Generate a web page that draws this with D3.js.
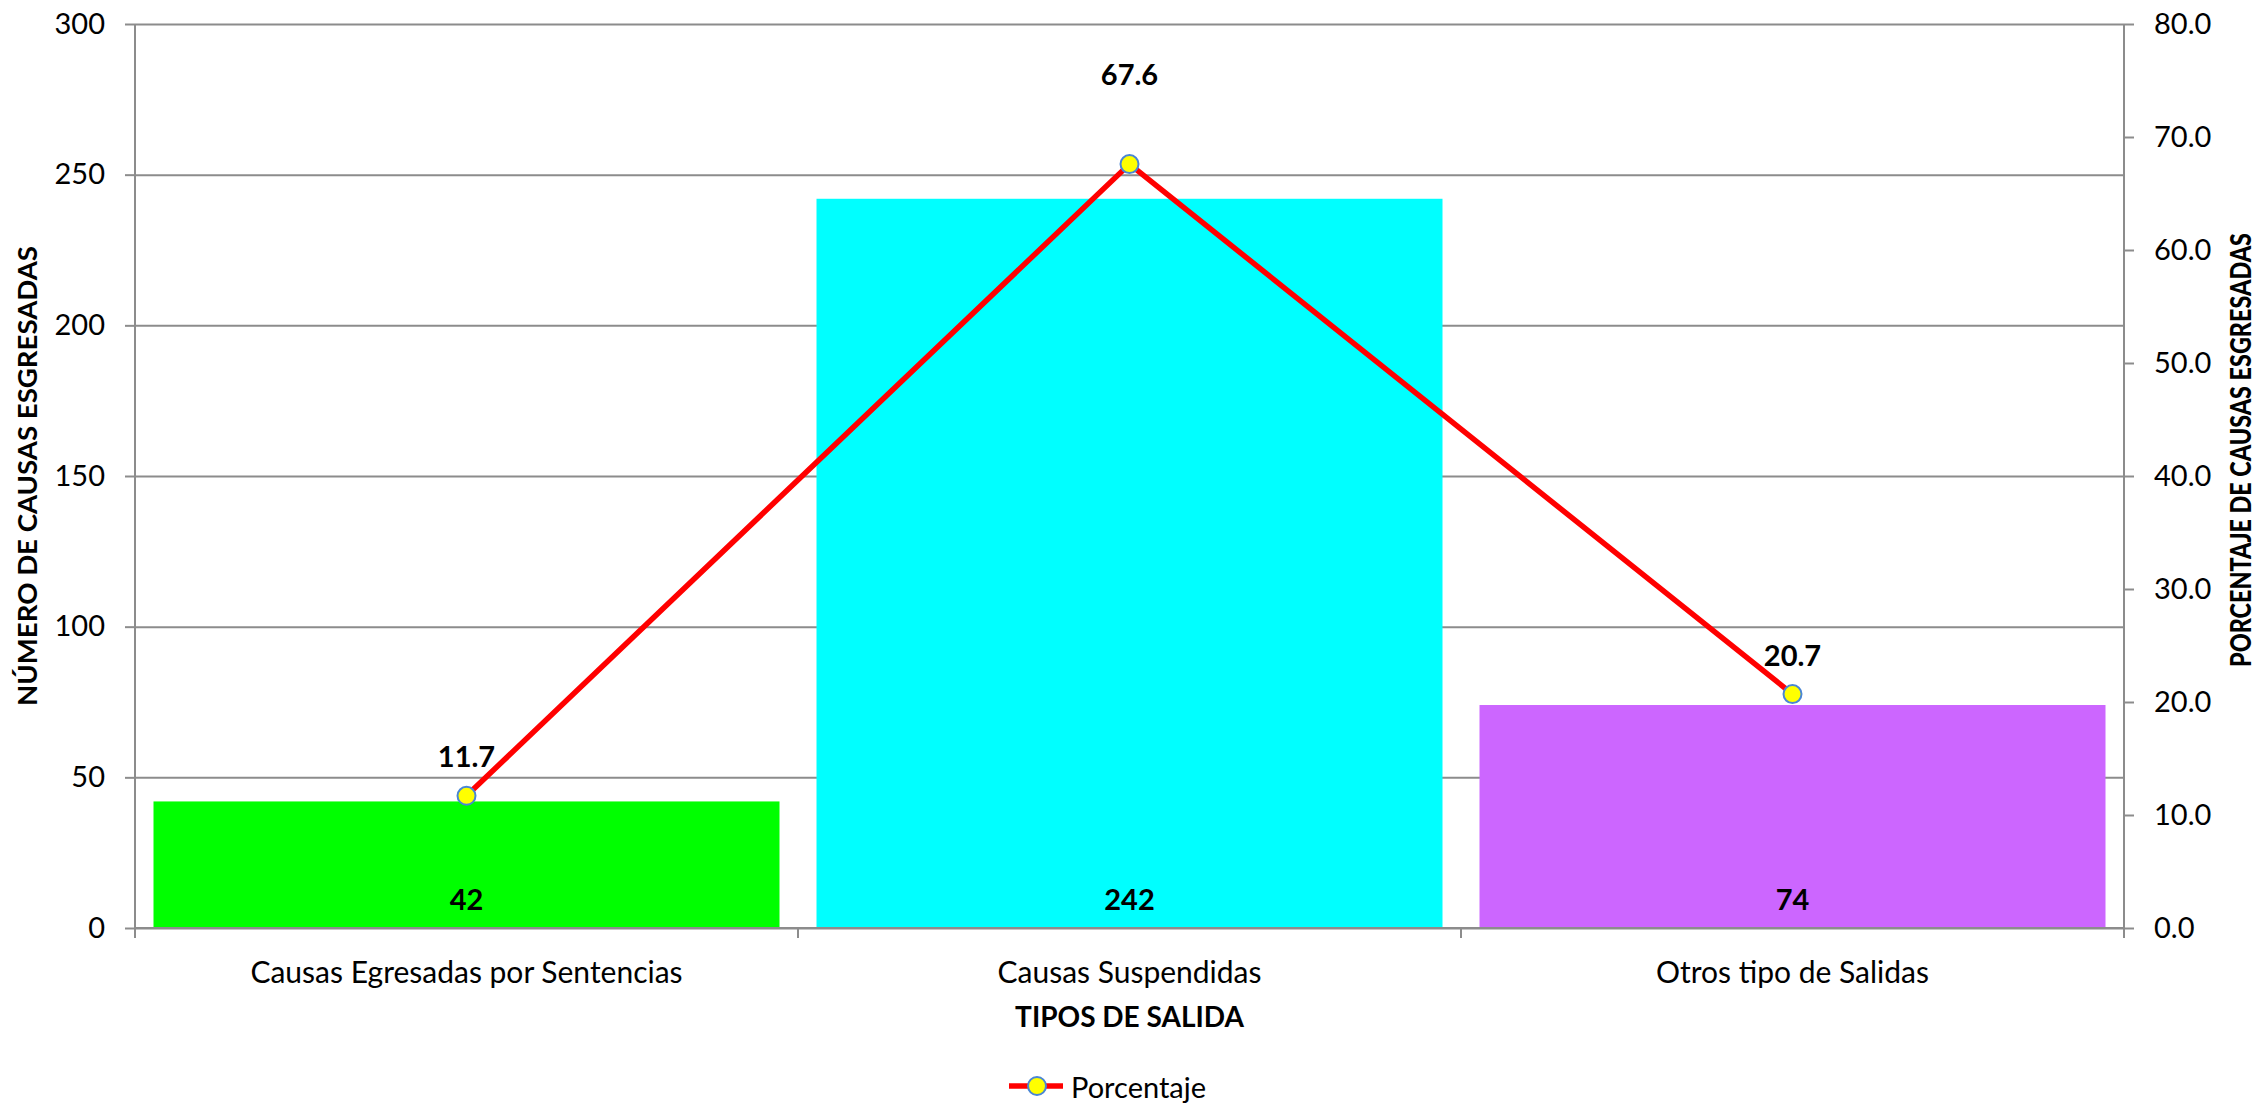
<html>
<head>
  <script src="https://d3js.org/d3.v7.min.js"></script>
  <style>
    body { margin: 0; background: white; }
    text { font-family: Lato, "Open Sans", sans-serif; fill: #000; }
    .axis path, .axis line { stroke: #8c8c8c; stroke-width: 2; }
    .gridlines line { stroke: #8c8c8c; stroke-width: 2; }
    .gridlines .domain { stroke: none; }
  </style>
</head>
<body>
  <svg id="chart" width="2256" height="1105"></svg>
  <script>
    // data
    const categories = ["Causas Egresadas por Sentencias", "Causas Suspendidas", "Otros tipo de Salidas"];
    const counts = [42, 242, 74];
    const percents = [11.7, 67.6, 20.7];
    const barColors = ["#00ff00", "#00ffff", "#cc66ff"];
    const leftTicks = [0, 50, 100, 150, 200, 250, 300];
    const rightTicks = [0, 10, 20, 30, 40, 50, 60, 70, 80];

    const svg = d3.select("svg#chart");
    const margin = { top: 24, right: 132, bottom: 177, left: 135 };
    const width = +svg.attr("width");
    const height = +svg.attr("height");
    const plotW = width - margin.left - margin.right;
    const plotH = height - margin.top - margin.bottom;

    const xBand = d3.scaleBand().domain(categories).range([0, plotW]);
    const yL = d3.scaleLinear().domain([0, 300]).range([plotH, 0]);
    const yR = d3.scaleLinear().domain([0, 80]).range([plotH, 0]);

    const g = svg.append("g").attr("transform", `translate(${margin.left},${margin.top})`);

    // gridlines
    g.append("g").attr("class", "gridlines")
      .call(d3.axisLeft(yL).tickValues(leftTicks).tickSize(-plotW).tickFormat(""));

    // bars
    g.selectAll("rect.bar").data(categories).join("rect")
      .attr("class", "bar")
      .attr("x", d => xBand(d) + (xBand.bandwidth() - 626) / 2)
      .attr("width", 626)
      .attr("y", (d, i) => yL(counts[i]))
      .attr("height", (d, i) => plotH - yL(counts[i]))
      .attr("fill", (d, i) => barColors[i]);

    // bar value labels
    g.selectAll("text.count").data(categories).join("text")
      .attr("class", "count")
      .attr("x", d => xBand(d) + xBand.bandwidth() / 2)
      .attr("y", plotH - 30)
      .attr("text-anchor", "middle")
      .attr("dominant-baseline", "central")
      .style("font-size", "29px").style("font-weight", "bold")
      .text((d, i) => counts[i]);

    // left axis
    const leftAxis = g.append("g").attr("class", "axis")
      .call(d3.axisLeft(yL).tickValues(leftTicks).tickSize(10).tickPadding(20));
    leftAxis.selectAll("text").style("font-size", "29px");
    leftAxis.select(".domain").attr("d", `M0,0V${plotH + 10}`);

    // right axis
    const rightAxis = g.append("g").attr("class", "axis")
      .attr("transform", `translate(${plotW},0)`)
      .call(d3.axisRight(yR).tickValues(rightTicks).tickSize(10).tickPadding(20).tickFormat(d3.format(".1f")));
    rightAxis.selectAll("text").style("font-size", "29px");
    rightAxis.select(".domain").attr("d", `M0,0V${plotH + 10}`);

    // bottom axis
    const bottom = g.append("g").attr("class", "axis")
      .attr("transform", `translate(0,${plotH})`);
    bottom.append("path").attr("class", "domain").attr("d", `M0,0H${plotW}`);
    bottom.selectAll("line").data([1, 2]).join("line")
      .attr("x1", d => d * xBand.bandwidth()).attr("x2", d => d * xBand.bandwidth())
      .attr("y1", 0).attr("y2", 10);
    bottom.selectAll("text").data(categories).join("text")
      .attr("x", d => xBand(d) + xBand.bandwidth() / 2)
      .attr("y", 43)
      .attr("text-anchor", "middle")
      .attr("dominant-baseline", "central")
      .style("font-size", "30px")
      .text(d => d);

    // line series
    const lineGen = d3.line()
      .x((d, i) => xBand(categories[i]) + xBand.bandwidth() / 2)
      .y(d => yR(d));
    g.append("path").datum(percents)
      .attr("d", lineGen)
      .attr("fill", "none")
      .attr("stroke", "#ff0000")
      .attr("stroke-width", 5.5);
    g.selectAll("circle.pt").data(percents).join("circle")
      .attr("class", "pt")
      .attr("cx", (d, i) => xBand(categories[i]) + xBand.bandwidth() / 2)
      .attr("cy", d => yR(d))
      .attr("r", 9)
      .attr("fill", "#ffff00")
      .attr("stroke", "#4a86d4")
      .attr("stroke-width", 2);

    // percentage labels (the middle one sits higher, as in the original)
    const labelLift = [40, 91, 40];
    g.selectAll("text.pct").data(percents).join("text")
      .attr("class", "pct")
      .attr("x", (d, i) => xBand(categories[i]) + xBand.bandwidth() / 2)
      .attr("y", (d, i) => yR(d) - labelLift[i])
      .attr("text-anchor", "middle")
      .attr("dominant-baseline", "central")
      .style("font-size", "29px").style("font-weight", "bold")
      .text(d => d3.format(".1f")(d));

    // axis titles
    svg.append("text")
      .attr("transform", `translate(26,${margin.top + plotH / 2}) rotate(-90)`)
      .attr("text-anchor", "middle").attr("dominant-baseline", "central")
      .attr("textLength", 460).attr("lengthAdjust", "spacingAndGlyphs")
      .style("font-size", "27px").style("font-weight", "bold")
      .text("NÚMERO DE CAUSAS ESGRESADAS");

    svg.append("text")
      .attr("transform", `translate(2240,450) rotate(-90)`)
      .attr("text-anchor", "middle").attr("dominant-baseline", "central")
      .attr("textLength", 434).attr("lengthAdjust", "spacingAndGlyphs")
      .style("font-size", "28px").style("font-weight", "900")
      .text("PORCENTAJE DE CAUSAS ESGRESADAS");

    svg.append("text")
      .attr("x", margin.left + plotW / 2).attr("y", 1016)
      .attr("text-anchor", "middle").attr("dominant-baseline", "central")
      .style("font-size", "28px").style("font-weight", "bold")
      .text("TIPOS DE SALIDA");

    // legend
    const legend = svg.append("g").attr("transform", "translate(1009,1086)");
    legend.append("line").attr("x1", 0).attr("x2", 54).attr("y1", 0).attr("y2", 0)
      .attr("stroke", "#ff0000").attr("stroke-width", 5.5);
    legend.append("circle").attr("cx", 28).attr("cy", 0).attr("r", 9)
      .attr("fill", "#ffff00").attr("stroke", "#4a86d4").attr("stroke-width", 2);
    legend.append("text").attr("x", 62).attr("y", 0)
      .attr("dominant-baseline", "central")
      .style("font-size", "29px")
      .text("Porcentaje");
  </script>
</body>
</html>
